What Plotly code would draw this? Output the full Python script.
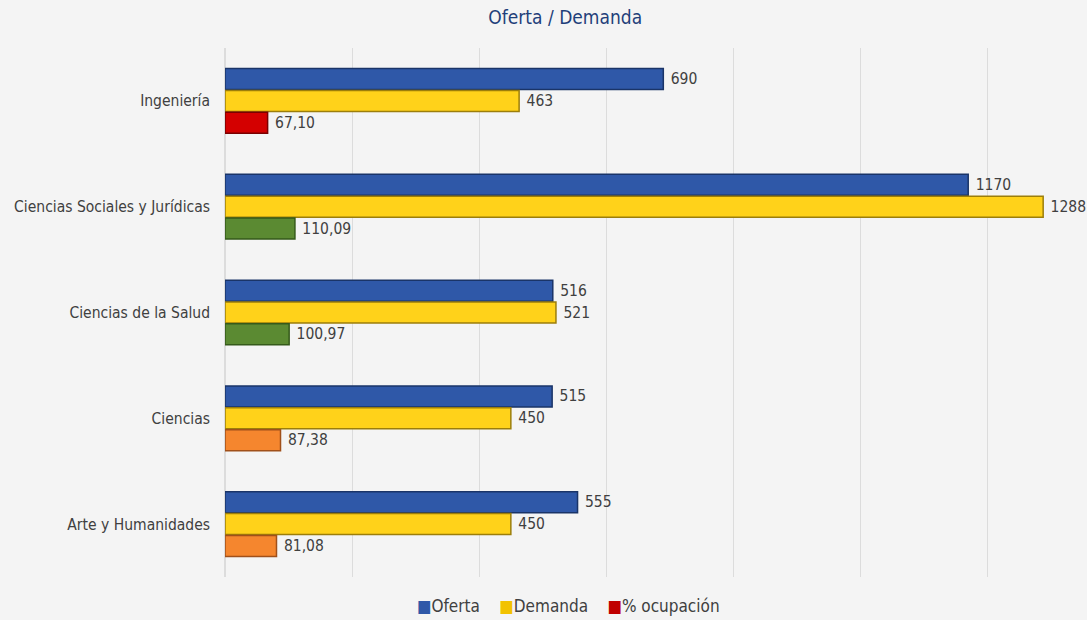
import plotly.graph_objects as go

categorias = ['Ingeniería', 'Ciencias Sociales y Jurídicas', 'Ciencias de la Salud',
              'Ciencias', 'Arte y Humanidades']
oferta = [690, 1170, 516, 515, 555]
demanda = [463, 1288, 521, 450, 450]
ocupacion = [67.10, 110.09, 100.97, 87.38, 81.08]
color_ocup = ['#D40000', '#5B8A32', '#5B8A32', '#F5862E', '#F5862E']
borde_ocup = ['#7A0000', '#355A1A', '#355A1A', '#A0501A', '#A0501A']

font = 'DejaVu Sans Condensed, Liberation Sans Narrow, Arial Narrow, Liberation Sans'
txt = dict(family=font, size=15.5, color='#404040')

fig = go.Figure()
fig.add_trace(go.Bar(y=categorias, x=oferta, orientation='h', name='Oferta',
                     marker=dict(color='#2F58A8', line=dict(color='#1A3468', width=1.5)),
                     text=[' ' + str(v) for v in oferta], textposition='outside',
                     textfont=txt, cliponaxis=False))
fig.add_trace(go.Bar(y=categorias, x=demanda, orientation='h', name='Demanda',
                     marker=dict(color='#FFD21A', line=dict(color='#9C7E0A', width=1.5)),
                     text=[' ' + str(v) for v in demanda], textposition='outside',
                     textfont=txt, cliponaxis=False))
fig.add_trace(go.Bar(y=categorias, x=ocupacion, orientation='h', name='% ocupación',
                     marker=dict(color=color_ocup, line=dict(color=borde_ocup, width=1.5)),
                     text=[' ' + f'{v:.2f}'.replace('.', ',') for v in ocupacion],
                     textposition='outside', textfont=txt, cliponaxis=False))

leyenda = ('<span style="color:#2F58A8">■</span>Oferta    '
           '<span style="color:#F2C200">■</span>Demanda    '
           '<span style="color:#C00000">■</span>% ocupación')

fig.update_layout(
    width=1087, height=620,
    paper_bgcolor='#F4F4F4', plot_bgcolor='#F4F4F4',
    margin=dict(l=225, r=0, t=48, b=43),
    title=dict(text='Oferta / Demanda', x=0.52, xanchor='center', y=0.972, yanchor='middle',
               font=dict(family=font, size=19, color='#1F3F7A')),
    barmode='group', bargap=0.38, bargroupgap=0.04,
    showlegend=False,
    annotations=[dict(text=leyenda, xref='paper', yref='paper', x=0.398, y=-0.033,
                      xanchor='center', yanchor='top', showarrow=False,
                      font=dict(family=font, size=17, color='#404040'))],
    xaxis=dict(range=[0, 1357], dtick=200, showticklabels=False, showgrid=True,
               gridcolor='#DCDCDC', gridwidth=1, zeroline=True, zerolinecolor='#DCDCDC',
               fixedrange=True),
    yaxis=dict(autorange='reversed', tickfont=dict(family=font, size=15.5, color='#404040'),
               ticklabelstandoff=14, showgrid=False),
)

fig.write_html('out.html', config={'displayModeBar': False},
               post_script="document.body.style.margin='0';")
